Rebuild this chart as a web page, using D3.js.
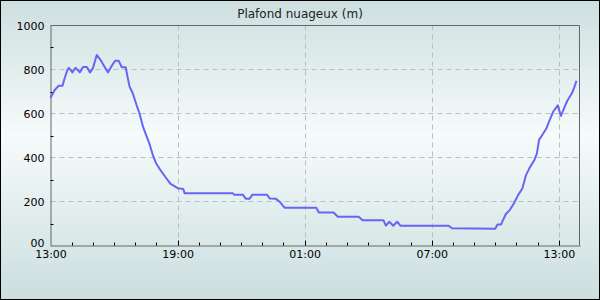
<!DOCTYPE html>
<html>
<head>
<meta charset="utf-8">
<script src="https://cdn.jsdelivr.net/npm/d3@7"></script>
<style>
html,body{margin:0;padding:0;background:#fff;}
svg{display:block;}
text{font-family:"DejaVu Sans",sans-serif;}
</style>
</head>
<body>
<svg id="chart" width="600" height="300"></svg>
<script>
const title = "Plafond nuageux (m)";
// minutes since 13:00 (start of period)
const minutes = [0,12,23,34,40,48,52,62,71,83,92,103,112,120,131,142,153,163,172,183,193,202,213,219,224,233,243,252,262,271,280,290,299,313,327,340,351,361,376,380,517,520,545,553,564,572,613,621,638,649,663,753,760,802,814,873,884,943,950,960,971,982,991,1128,1137,1260,1266,1276,1290,1301,1313,1325,1337,1347,1358,1370,1378,1384,1393,1405,1414,1424,1437,1446,1455,1464,1477,1483,1490];
const values  = [672,707,726,726,760,798,808,787,808,787,811,811,787,805,866,843,813,787,813,840,840,810,810,760,722,692,642,601,540,502,464,411,374,339,308,280,270,260,257,237,237,231,231,213,213,231,231,214,213,199,172,172,150,150,131,131,115,115,90,108,90,108,90,90,78,76,95,95,143,161,192,230,260,320,355,386,419,480,502,533,570,608,637,589,624,658,692,715,749];
const yTicks = [0,200,400,600,800,1000];
const yTickLabels = ["00","200","400","600","800","1000"];
const xTickLabels = ["13:00","19:00","01:00","07:00","13:00"];

const start = new Date(2024,0,1,13,0);
const data = minutes.map((m,i)=>({t:new Date(start.getTime()+m*60000), v:values[i]}));

const svg = d3.select("#chart");
const W=600,H=300;
const m = {left:50.5, right:20, top:25.5, bottom:54.5};

const defs = svg.append("defs");
const g = defs.append("linearGradient").attr("id","bg").attr("x1",0).attr("y1",0).attr("x2",0).attr("y2",1);
g.append("stop").attr("offset","0%").attr("stop-color","#cddfdf");
g.append("stop").attr("offset","45%").attr("stop-color","#f6fbfb");
g.append("stop").attr("offset","100%").attr("stop-color","#cbdede");
svg.append("rect").attr("x",0.5).attr("y",0.5).attr("width",W-1).attr("height",H-1)
  .attr("fill","url(#bg)").attr("stroke","#000").attr("stroke-width",1);

const x = d3.scaleTime().domain([start, new Date(start.getTime()+25*3600000)]).range([m.left, W-m.right]);
const y = d3.scaleLinear().domain([0,1000]).range([H-m.bottom, m.top]);

// grid
const majorTimes = xTickLabels.map((l,i)=>new Date(start.getTime()+i*6*3600000));
svg.append("g").selectAll("line.hg").data(yTicks.filter(v=>v>0&&v<1000)).join("line")
  .attr("x1",m.left).attr("x2",W-m.right).attr("y1",d=>y(d)).attr("y2",d=>y(d))
  .attr("stroke","#bdbdbd").attr("stroke-dasharray","5,4");
svg.append("g").selectAll("line.vg").data(majorTimes.slice(1)).join("line")
  .attr("x1",d=>Math.round(x(d))+0.5).attr("x2",d=>Math.round(x(d))+0.5).attr("y1",m.top).attr("y2",H-m.bottom)
  .attr("stroke","#bdbdbd").attr("stroke-dasharray","5,4");

// frame (top/right)
svg.append("path").attr("d",`M${m.left},${m.top}H${W-m.right-0.5}V${H-m.bottom}`)
  .attr("fill","none").attr("stroke","#666");

// y axis
const yAxis = d3.axisLeft(y).tickValues(yTicks).tickSize(0).tickFormat((d,i)=>yTickLabels[i]).tickPadding(6);
const ya = svg.append("g").attr("transform",`translate(${m.left},0)`).call(yAxis);
ya.select(".domain").attr("stroke","#666");
ya.selectAll("text").attr("font-size",11).attr("fill","#000");
ya.selectAll(".tick text").filter((d)=>d===0).attr("dy","0.1em");
// y minor ticks (inside)
svg.append("g").selectAll("line").data(d3.range(100,1000,200)).join("line")
  .attr("x1",m.left).attr("x2",m.left+3).attr("y1",d=>Math.round(y(d))+0.5).attr("y2",d=>Math.round(y(d))+0.5)
  .attr("stroke","#000");

// x axis
const xAxis = d3.axisBottom(x).tickValues(majorTimes).tickSize(0).tickFormat((d,i)=>xTickLabels[i]).tickPadding(5);
const xa = svg.append("g").attr("transform",`translate(0,${H-m.bottom})`).call(xAxis);
xa.select(".domain").attr("stroke","#666");
xa.selectAll("text").attr("font-size",11).attr("fill","#000");
const hours = d3.range(1,25).map(h=>new Date(start.getTime()+h*3600000));
svg.append("g").selectAll("line").data(hours).join("line")
  .attr("x1",d=>Math.round(x(d))+0.5).attr("x2",d=>Math.round(x(d))+0.5)
  .attr("y1",H-m.bottom).attr("y2",(d,i)=>H-m.bottom-((i+1)%6===0?5:3))
  .attr("stroke","#000");

// line
const line = d3.line().x(d=>x(d.t)).y(d=>y(d.v));
svg.append("path").datum(data).attr("d",line).attr("fill","none")
  .attr("stroke","#6666f4").attr("stroke-width",2).attr("stroke-linejoin","round");

// title
svg.append("text").attr("x",W/2).attr("y",18).attr("text-anchor","middle")
  .attr("font-size",12).attr("fill","#222").text(title);
</script>
</body>
</html>
